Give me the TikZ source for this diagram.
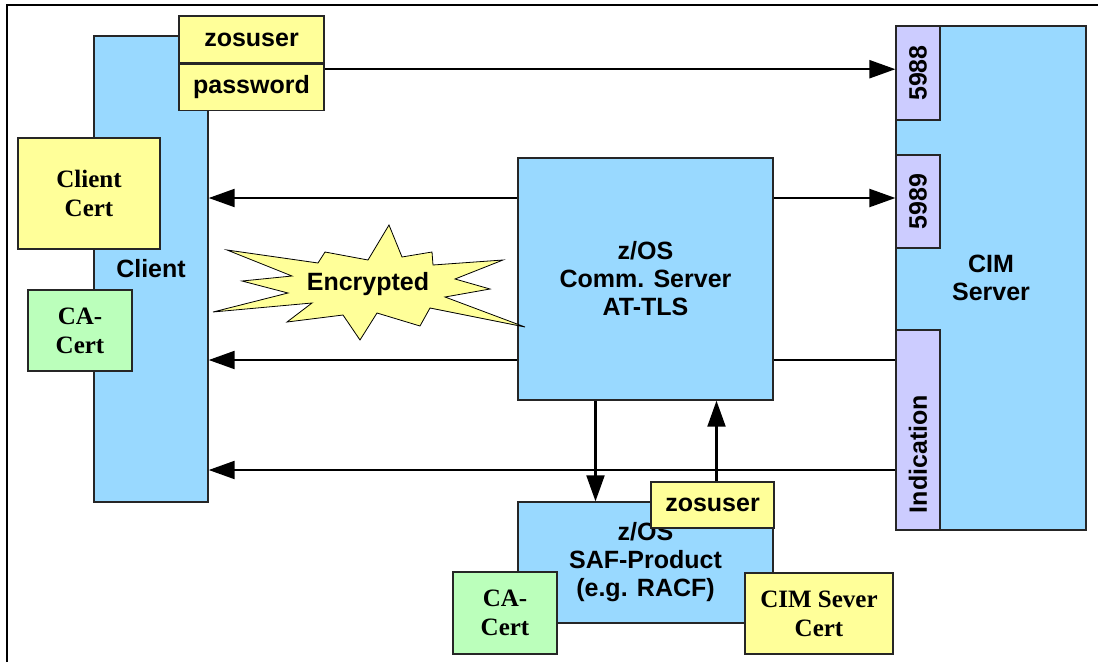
\documentclass[tikz,border=0pt]{standalone}
\usepackage{fontspec}
\setmainfont{Liberation Serif}
\setsansfont{Liberation Sans}
\usepackage{graphicx}
\usepackage{xcolor}
\usetikzlibrary{shapes,arrows.meta,positioning,fit,calc}

\definecolor{boxblue}{RGB}{153,217,255}
\definecolor{noteyellow}{RGB}{255,255,153}
\definecolor{certgreen}{RGB}{187,255,187}
\definecolor{portlilac}{RGB}{204,204,255}

\begin{document}
\begin{tikzpicture}[
  x=1pt,y=-1pt,
  every node/.style={align=center,inner sep=0pt},
  sanslbl/.style={font=\sffamily\bfseries\fontsize{25}{28}\selectfont},
  seriflbl/.style={font=\rmfamily\bfseries\fontsize{25}{29}\selectfont},
  hostbox/.style={rectangle,draw=black!85,fill=boxblue,line width=1.4pt,sanslbl},
  notebox/.style={rectangle,draw=black!85,fill=noteyellow,line width=1.2pt},
  certbox/.style={rectangle,draw=black!85,fill=certgreen,line width=1.2pt,seriflbl},
  portbox/.style={rectangle,draw=black!85,fill=portlilac,line width=1.2pt,sanslbl},
  arrow/.style={-{Triangle[length=26pt,width=18pt]},line width=2.2pt},
  link/.style={line width=2.2pt}
]
\useasboundingbox (0,0) rectangle (1098,662);
\draw[line width=1.4pt] (7,662) -- (7,5) -- (1098,5);

% client side
\node[hostbox,minimum width=114pt,minimum height=466pt] (client) at (151,269) {Client};
\node[notebox,sanslbl,minimum width=145pt,minimum height=47pt] (zos) at (251.5,39.5) {zosuser};
\node[notebox,sanslbl,minimum width=145pt,minimum height=46pt,below=0pt of zos] (pwd) {password};
\node[notebox,seriflbl,minimum width=142pt,minimum height=111pt] (ccert) at (89,193.5) {Client\\Cert};
\node[certbox,minimum width=104pt,minimum height=81pt] (cacert) at (80,330.5) {CA-\\Cert};

% cim server with ports
\node[hostbox,minimum width=190pt,minimum height=504pt] (cim) at (991,278) {CIM\\Server};
\node[portbox,minimum width=44pt,minimum height=94pt] (p5988) at (918,73) {\rotatebox{90}{5988}};
\node[portbox,minimum width=44pt,minimum height=93pt] (p5989) at (918,201.5) {\rotatebox{90}{5989}};
\node[portbox,minimum width=44pt,minimum height=200pt] (pind) at (918,430) {};
\node[sanslbl] (indlbl) at ([yshift=-24pt]pind.center) {\rotatebox{90}{Indication}};

% z/OS parts
\node[hostbox,minimum width=255pt,minimum height=242pt] (comm) at (645.5,279) {z/OS\\Comm. Server\\AT-TLS};
\node[hostbox,minimum width=255pt,minimum height=121pt] (saf) at (645.5,562.5) {z/OS\\SAF-Product\\(e.g. RACF)};
\node[notebox,sanslbl,minimum width=123pt,minimum height=46pt] (zosu) at (712.5,505) {zosuser};
\node[certbox,minimum width=104pt,minimum height=82pt] (cacert2) at (505,613) {CA-\\Cert};
\node[notebox,seriflbl,minimum width=148pt,minimum height=81pt] (cimcert) at (819,613.5) {CIM Sever\\Cert};

\draw[arrow] ([yshift=18pt]pwd.east) -- ([yshift=18pt]pwd.east -| p5988.west);
\draw[arrow] ([yshift=81pt]comm.west) -- ([yshift=81pt]comm.west -| client.east);
\draw[arrow] ([yshift=81pt]comm.east) -- ([yshift=81pt]comm.east -| p5989.west);
\draw[arrow] ([yshift=-81pt]comm.west) -- ([yshift=-81pt]comm.west -| client.east);
\draw[link] ([yshift=-81pt]comm.east) -- ([yshift=-81pt]comm.east -| pind.west);
\draw[arrow] ([yshift=-40pt]pind.west) -- ([yshift=-40pt]pind.west -| client.east);
\draw[arrow] ([xshift=-50pt]comm.south) -- ([xshift=-50pt]comm.south |- saf.north);
\draw[arrow] ([xshift=4pt]zosu.north) -- ([xshift=4pt]zosu.north |- comm.south);

% encrypted burst
\draw[fill=noteyellow,line width=0.8pt] (227,250) -- (318,263) -- (325,252) -- (368,260) -- (389,225) -- (402,257) -- (432,252) -- (433,265) -- (503,260) -- (455,279) -- (490,289) -- (445,297) -- (525,327) -- (430,308) -- (420,326) -- (377,313) -- (360,340) -- (343,315) -- (287,322) -- (312,303) -- (213,312) -- (288,293) -- (242,281) -- (292,276) -- cycle;
\node[sanslbl] (enc) at (368,284) {Encrypted};
\end{tikzpicture}
\end{document}
